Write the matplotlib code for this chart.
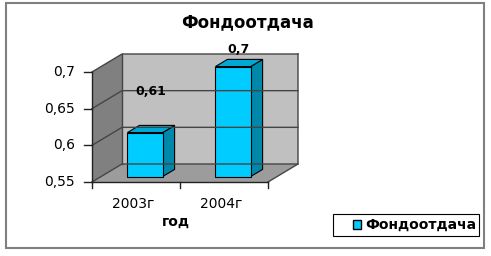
import matplotlib
matplotlib.use('Agg')
import matplotlib.pyplot as plt
from matplotlib.patches import Polygon, Rectangle, Patch

# data
categories = ['2003г', '2004г']
values = [0.61, 0.7]
value_labels = ['0,61', '0,7']
y_ticks = [0.55, 0.6, 0.65, 0.7]
series_name = 'Фондоотдача'
x_title = 'год'

# layout (pixels of the 491x256 picture)
W, H = 491, 256
label_dy = [0.051, 0.018]   # excel put the data labels at odd heights

fig = plt.figure(figsize=(W / 100, H / 100), dpi=100)
ax = fig.add_axes([0, 0, 1, 1])

# front plane: categories 0..2 over px 92..268, values 0.55..0.7 over px 182..72
px_x = 88.0
px_y = 110.0 / 0.15
ax.set_xlim(-92 / px_x, (W - 92) / px_x)
ax.set_ylim(0.55 - (H - 182) / px_y, 0.55 + 182 / px_y)
ax.axis('off')

# oblique depth shift (full depth = 30 px right, 18 px up)
DX = 30 / px_x
DY = 18 / px_y


def proj(x, y, d):
    return (x + d * DX, y + d * DY)


n = len(categories)
ymin, ymax = y_ticks[0], y_ticks[-1]

# walls and floor
back = [proj(0, ymin, 1), proj(n, ymin, 1), proj(n, ymax, 1), proj(0, ymax, 1)]
left = [proj(0, ymin, 0), proj(0, ymin, 1), proj(0, ymax, 1), proj(0, ymax, 0)]
floor = [proj(0, ymin, 0), proj(n, ymin, 0), proj(n, ymin, 1), proj(0, ymin, 1)]
ax.add_patch(Polygon(back, closed=True, facecolor='#c0c0c0', edgecolor='none'))
ax.add_patch(Polygon(left, closed=True, facecolor='#808080', edgecolor='none'))
ax.add_patch(Polygon(floor, closed=True, facecolor='#9c9c9c', edgecolor='none'))

# gridlines on left and back walls
for t in y_ticks:
    pts = [proj(0, t, 0), proj(0, t, 1), proj(n, t, 1)]
    ax.plot([p[0] for p in pts], [p[1] for p in pts], color='#454545', lw=1.0)
edge = [proj(n, ymin, 0), proj(n, ymin, 1), proj(n, ymax, 1)]
ax.plot([p[0] for p in edge], [p[1] for p in edge], color='#454545', lw=1.0)
edge = [proj(0, ymax, 1), proj(0, ymin, 1)]
ax.plot([p[0] for p in edge], [p[1] for p in edge], color='#454545', lw=1.0)

# axes lines and ticks
ax.plot([0, 0], [ymin, ymax], color='#222222', lw=1.0)
ax.plot([0, n], [ymin, ymin], color='#222222', lw=1.0)
for t in y_ticks:
    ax.plot([-8 / px_x, 0], [t, t], color='#222222', lw=1.0)
    ax.text(-17 / px_x, t, f'{t:g}'.replace('.', ','), ha='right', va='center',
            fontsize=10)
for i in range(n + 1):
    ax.plot([i, i], [ymin, ymin - 6 / px_y], color='#222222', lw=1.0)

# bars
w = 0.4
d0, d1 = 0.3, 0.7
for i, v in enumerate(values):
    c = i + 0.5
    x0, x1 = c - w / 2, c + w / 2
    front = [proj(x0, ymin, d0), proj(x1, ymin, d0), proj(x1, v, d0), proj(x0, v, d0)]
    side = [proj(x1, ymin, d0), proj(x1, ymin, d1), proj(x1, v, d1), proj(x1, v, d0)]
    top = [proj(x0, v, d0), proj(x1, v, d0), proj(x1, v, d1), proj(x0, v, d1)]
    ax.add_patch(Polygon(side, closed=True, facecolor='#0088aa', edgecolor='black', lw=0.8))
    ax.add_patch(Polygon(top, closed=True, facecolor='#00a8d6', edgecolor='black', lw=0.8))
    ax.add_patch(Polygon(front, closed=True, facecolor='#00ccff', edgecolor='black', lw=0.8))
    lx, ly = proj(c, v + label_dy[i], 0.5)
    ax.text(lx, ly, value_labels[i], ha='center', va='center', fontsize=9,
            fontweight='bold')
    ax.text(c - 0.03, ymin - 22 / px_y, categories[i], ha='center', va='center',
            fontsize=10)

ax.text(n / 2 - 0.05, ymin - 40 / px_y, x_title, ha='center', va='center',
        fontsize=10, fontweight='bold')

# title
fig.text(248 / W, 1 - 22 / H, series_name, ha='center', va='center',
         fontsize=12, fontweight='bold')

# chart border
fig.patches.append(Rectangle((6 / W, 1 - 248 / H), 478 / W, 245 / H,
                             transform=fig.transFigure, fill=False,
                             edgecolor='#808080', lw=1.5))

# legend box, drawn by hand to get excel's wide left margin
fig.patches.append(Rectangle((333 / W, 1 - 236 / H), 146 / W, 22 / H,
                             transform=fig.transFigure, facecolor='white',
                             edgecolor='black', lw=0.8))
fig.legend(handles=[Patch(facecolor='#00ccff', edgecolor='black', label=series_name)],
           loc='center left', bbox_to_anchor=(353 / W, 1 - 225 / H),
           frameon=False, prop={'size': 10, 'weight': 'bold'},
           handlelength=0.6, handleheight=0.6, handletextpad=0.3,
           borderpad=0, borderaxespad=0)

fig.savefig('out.png', dpi=100)
